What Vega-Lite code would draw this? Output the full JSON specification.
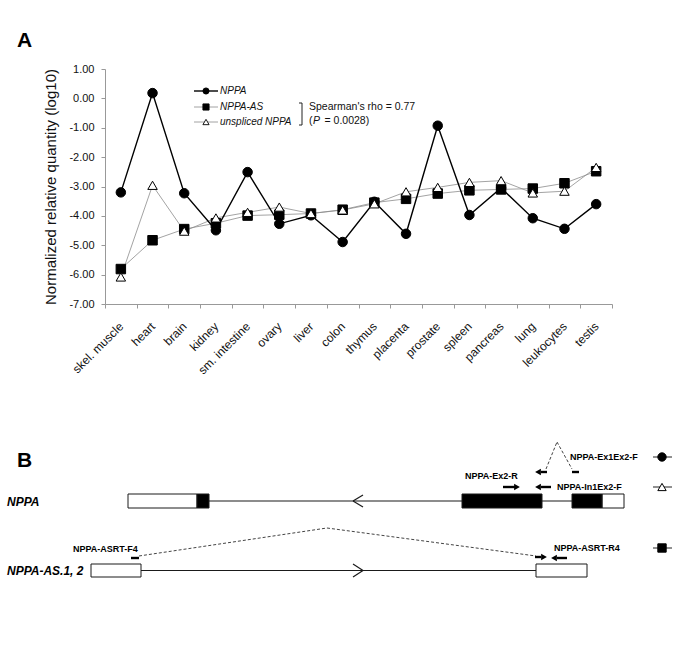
{
 "$schema": "https://vega.github.io/schema/vega-lite/v6.json",
 "width": 507,
 "height": 235,
 "autosize": {"type": "none"},
 "padding": {"left": 105, "top": 69, "right": 73, "bottom": 364},
 "background": "white",
 "config": {"view": {"stroke": null}, "font": "Liberation Sans"},
 "datasets": {
  "expr": [
   {"tissue": "skel. muscle", "series": "NPPA", "value": -3.2},
   {"tissue": "heart", "series": "NPPA", "value": 0.18},
   {"tissue": "brain", "series": "NPPA", "value": -3.23},
   {"tissue": "kidney", "series": "NPPA", "value": -4.49},
   {"tissue": "sm. intestine", "series": "NPPA", "value": -2.51},
   {"tissue": "ovary", "series": "NPPA", "value": -4.27},
   {"tissue": "liver", "series": "NPPA", "value": -3.98},
   {"tissue": "colon", "series": "NPPA", "value": -4.89},
   {"tissue": "thymus", "series": "NPPA", "value": -3.52},
   {"tissue": "placenta", "series": "NPPA", "value": -4.61},
   {"tissue": "prostate", "series": "NPPA", "value": -0.93},
   {"tissue": "spleen", "series": "NPPA", "value": -3.97},
   {"tissue": "pancreas", "series": "NPPA", "value": -3.05},
   {"tissue": "lung", "series": "NPPA", "value": -4.08},
   {"tissue": "leukocytes", "series": "NPPA", "value": -4.44},
   {"tissue": "testis", "series": "NPPA", "value": -3.6},
   {"tissue": "skel. muscle", "series": "NPPA-AS", "value": -5.81},
   {"tissue": "heart", "series": "NPPA-AS", "value": -4.83},
   {"tissue": "brain", "series": "NPPA-AS", "value": -4.45},
   {"tissue": "kidney", "series": "NPPA-AS", "value": -4.25},
   {"tissue": "sm. intestine", "series": "NPPA-AS", "value": -3.99},
   {"tissue": "ovary", "series": "NPPA-AS", "value": -3.96},
   {"tissue": "liver", "series": "NPPA-AS", "value": -3.92},
   {"tissue": "colon", "series": "NPPA-AS", "value": -3.79},
   {"tissue": "thymus", "series": "NPPA-AS", "value": -3.55},
   {"tissue": "placenta", "series": "NPPA-AS", "value": -3.42},
   {"tissue": "prostate", "series": "NPPA-AS", "value": -3.24},
   {"tissue": "spleen", "series": "NPPA-AS", "value": -3.13},
   {"tissue": "pancreas", "series": "NPPA-AS", "value": -3.1},
   {"tissue": "lung", "series": "NPPA-AS", "value": -3.07},
   {"tissue": "leukocytes", "series": "NPPA-AS", "value": -2.89},
   {"tissue": "testis", "series": "NPPA-AS", "value": -2.48},
   {"tissue": "skel. muscle", "series": "unspliced NPPA", "value": -6.08},
   {"tissue": "heart", "series": "unspliced NPPA", "value": -2.96},
   {"tissue": "brain", "series": "unspliced NPPA", "value": -4.52},
   {"tissue": "kidney", "series": "unspliced NPPA", "value": -4.07},
   {"tissue": "sm. intestine", "series": "unspliced NPPA", "value": -3.88},
   {"tissue": "ovary", "series": "unspliced NPPA", "value": -3.7},
   {"tissue": "liver", "series": "unspliced NPPA", "value": -3.92},
   {"tissue": "colon", "series": "unspliced NPPA", "value": -3.8},
   {"tissue": "thymus", "series": "unspliced NPPA", "value": -3.59},
   {"tissue": "placenta", "series": "unspliced NPPA", "value": -3.18},
   {"tissue": "prostate", "series": "unspliced NPPA", "value": -3.03},
   {"tissue": "spleen", "series": "unspliced NPPA", "value": -2.86},
   {"tissue": "pancreas", "series": "unspliced NPPA", "value": -2.8},
   {"tissue": "lung", "series": "unspliced NPPA", "value": -3.22},
   {"tissue": "leukocytes", "series": "unspliced NPPA", "value": -3.16},
   {"tissue": "testis", "series": "unspliced NPPA", "value": -2.35}
  ],
  "boxes": [
   {"x": 128, "y": 494, "x2": 197, "y2": 508, "kind": "UTR"},
   {"x": 197, "y": 494, "x2": 209, "y2": 508, "kind": "CDS"},
   {"x": 462, "y": 494, "x2": 542, "y2": 508, "kind": "CDS"},
   {"x": 572, "y": 494, "x2": 602, "y2": 508, "kind": "CDS"},
   {"x": 602, "y": 494, "x2": 624, "y2": 508, "kind": "UTR"},
   {"x": 91, "y": 564, "x2": 141, "y2": 577, "kind": "UTR"},
   {"x": 536, "y": 564, "x2": 587, "y2": 577, "kind": "UTR"}
  ],
  "segs": [
   {"x": 128, "y": 501, "x2": 624, "y2": 501, "kind": "gene"},
   {"x": 363, "y": 495, "x2": 353, "y2": 501, "kind": "gene"},
   {"x": 353, "y": 501, "x2": 363, "y2": 507, "kind": "gene"},
   {"x": 91, "y": 570.5, "x2": 587, "y2": 570.5, "kind": "gene"},
   {"x": 353, "y": 564, "x2": 363, "y2": 570.5, "kind": "gene"},
   {"x": 363, "y": 570.5, "x2": 353, "y2": 577, "kind": "gene"},
   {"x": 139, "y": 556, "x2": 327, "y2": 528, "kind": "splice"},
   {"x": 327, "y": 528, "x2": 536, "y2": 556, "kind": "splice"},
   {"x": 546, "y": 469, "x2": 557, "y2": 442, "kind": "splice"},
   {"x": 557, "y": 442, "x2": 572, "y2": 469, "kind": "splice"},
   {"x": 503, "y": 487, "x2": 515, "y2": 487, "kind": "primer"},
   {"x": 541, "y": 487, "x2": 551, "y2": 487, "kind": "primer"},
   {"x": 541, "y": 472, "x2": 547, "y2": 472, "kind": "primer"},
   {"x": 572, "y": 472, "x2": 579, "y2": 472, "kind": "primer"},
   {"x": 131, "y": 558, "x2": 139, "y2": 558, "kind": "primer"},
   {"x": 535, "y": 557, "x2": 541, "y2": 557, "kind": "primer"},
   {"x": 557, "y": 558, "x2": 567, "y2": 558, "kind": "primer"},
   {"x": 299, "y": 103, "x2": 302, "y2": 103, "kind": "bracket"},
   {"x": 302, "y": 103, "x2": 302, "y2": 125, "kind": "bracket"},
   {"x": 299, "y": 125, "x2": 302, "y2": 125, "kind": "bracket"},
   {"x": 653, "y": 457, "x2": 672, "y2": 457, "kind": "key"},
   {"x": 653, "y": 487, "x2": 672, "y2": 487, "kind": "key"},
   {"x": 653, "y": 548, "x2": 672, "y2": 548, "kind": "key"},
   {"x": 194, "y": 91, "x2": 218, "y2": 91, "kind": "legend", "series": "NPPA"},
   {"x": 194, "y": 107, "x2": 218, "y2": 107, "kind": "legend", "series": "NPPA-AS"},
   {"x": 194, "y": 122, "x2": 218, "y2": 122, "kind": "legend", "series": "unspliced NPPA"}
  ],
  "heads": [
   {"x": 517, "y": 487, "dir": "right"},
   {"x": 538, "y": 487, "dir": "left"},
   {"x": 538, "y": 472, "dir": "left"},
   {"x": 544, "y": 557, "dir": "right"},
   {"x": 554, "y": 558, "dir": "left"}
  ],
  "markers": [
   {"x": 206, "y": 91, "series": "NPPA", "group": "legend"},
   {"x": 206, "y": 107, "series": "NPPA-AS", "group": "legend"},
   {"x": 206, "y": 122, "series": "unspliced NPPA", "group": "legend"},
   {"x": 662, "y": 457, "series": "NPPA", "group": "key"},
   {"x": 662, "y": 487, "series": "unspliced NPPA", "group": "key"},
   {"x": 662, "y": 548, "series": "NPPA-AS", "group": "key"}
  ],
  "labels": [
   {"x": 17, "y": 46.7, "text": "A", "kind": "panel"},
   {"x": 17, "y": 466.7, "text": "B", "kind": "panel"},
   {"x": 7, "y": 502, "text": "NPPA", "kind": "gene"},
   {"x": 7, "y": 571, "text": "NPPA-AS.1, 2", "kind": "gene"},
   {"x": 73, "y": 549, "text": "NPPA-ASRT-F4", "kind": "primer"},
   {"x": 465, "y": 476, "text": "NPPA-Ex2-R", "kind": "primer"},
   {"x": 557, "y": 487, "text": "NPPA-In1Ex2-F", "kind": "primer"},
   {"x": 570, "y": 457, "text": "NPPA-Ex1Ex2-F", "kind": "primer"},
   {"x": 554, "y": 548, "text": "NPPA-ASRT-R4", "kind": "primer"},
   {"x": 220, "y": 91, "text": "NPPA", "kind": "legend"},
   {"x": 220, "y": 107, "text": "NPPA-AS", "kind": "legend"},
   {"x": 220, "y": 122, "text": "unspliced NPPA", "kind": "legend"},
   {"x": 309, "y": 107, "text": "Spearman's rho = 0.77", "kind": "stat"},
   {"x": 309, "y": 121, "text": "(", "kind": "stat"},
   {"x": 313, "y": 121, "text": "P", "kind": "statItalic"},
   {"x": 324.5, "y": 121, "text": "= 0.0028)", "kind": "stat"}
  ]
 },
 "layer": [
  {
   "data": {"name": "expr"},
   "encoding": {
    "x": {
     "field": "tissue", "type": "nominal", "sort": null,
     "scale": {"type": "band", "paddingInner": 0, "paddingOuter": 0},
     "axis": {
      "title": null, "labelAngle": -45, "labelAlign": "right", "labelBaseline": "middle",
      "labelFontSize": 12, "labelPadding": 16, "labelColor": "#111", "labelOverlap": false,
      "tickBand": "extent", "tickSize": 4, "tickColor": "#999", "domainColor": "#999", "grid": false
     }
    },
    "y": {
     "field": "value", "type": "quantitative",
     "scale": {"domain": [-7, 1], "nice": false, "zero": false},
     "axis": {
      "values": [-7, -6, -5, -4, -3, -2, -1, 0, 1],
      "labelExpr": "(datum.value < 0 ? '-' : '') + format(abs(datum.value), '.2f')",
      "labelFontSize": 11, "labelColor": "#111", "labelPadding": 7,
      "tickSize": 4, "tickColor": "#999", "domainColor": "#999", "grid": false,
      "title": "Normalized relative quantity (log10)", "titleFontSize": 15,
      "titleFontWeight": "normal", "titleColor": "#111", "titlePadding": 10
     }
    }
   },
   "layer": [
    {
     "transform": [{"filter": "datum.series !== 'NPPA'"}],
     "mark": {"type": "line", "stroke": "#8c8c8c", "strokeWidth": 0.8},
     "encoding": {"detail": {"field": "series", "type": "nominal"}}
    },
    {
     "transform": [{"filter": "datum.series === 'NPPA'"}],
     "mark": {"type": "line", "stroke": "black", "strokeWidth": 1.4}
    },
    {
     "mark": {"type": "point", "size": 90, "stroke": "black", "strokeWidth": 1, "opacity": 1, "filled": true},
     "encoding": {
      "shape": {"field": "series", "type": "nominal", "scale": {"domain": ["NPPA", "NPPA-AS", "unspliced NPPA"], "range": ["circle", "square", "triangle-up"]}, "legend": null},
      "fill": {"field": "series", "type": "nominal", "scale": {"domain": ["NPPA", "NPPA-AS", "unspliced NPPA"], "range": ["black", "black", "white"]}, "legend": null}
     }
    }
   ]
  },
  {
   "encoding": {
    "x": {"field": "x", "type": "quantitative", "scale": {"domain": [0, 685], "range": [-105, 580], "nice": false, "zero": false}, "axis": null},
    "y": {"field": "y", "type": "quantitative", "scale": {"domain": [0, 668], "range": [-69, 599], "nice": false, "zero": false}, "axis": null}
   },
   "layer": [
    {
     "data": {"name": "segs"},
     "transform": [{"filter": "datum.kind === 'gene'"}],
     "mark": {"type": "rule", "stroke": "#1a1a1a", "strokeWidth": 1.2},
     "encoding": {"x2": {"field": "x2"}, "y2": {"field": "y2"}}
    },
    {
     "data": {"name": "boxes"},
     "transform": [{"filter": "datum.kind === 'UTR'"}],
     "mark": {"type": "rect", "fill": "white", "stroke": "#1a1a1a", "strokeWidth": 1},
     "encoding": {"x2": {"field": "x2"}, "y2": {"field": "y2"}}
    },
    {
     "data": {"name": "boxes"},
     "transform": [{"filter": "datum.kind === 'CDS'"}],
     "mark": {"type": "rect", "fill": "black", "stroke": "#1a1a1a", "strokeWidth": 1},
     "encoding": {"x2": {"field": "x2"}, "y2": {"field": "y2"}}
    },
    {
     "data": {"name": "segs"},
     "transform": [{"filter": "datum.kind === 'splice'"}],
     "mark": {"type": "rule", "stroke": "#444", "strokeWidth": 1, "strokeDash": [3, 2]},
     "encoding": {"x2": {"field": "x2"}, "y2": {"field": "y2"}}
    },
    {
     "data": {"name": "segs"},
     "transform": [{"filter": "datum.kind === 'primer'"}],
     "mark": {"type": "rule", "stroke": "black", "strokeWidth": 2.4},
     "encoding": {"x2": {"field": "x2"}, "y2": {"field": "y2"}}
    },
    {
     "data": {"name": "heads"},
     "transform": [{"filter": "datum.dir === 'right'"}],
     "mark": {"type": "point", "shape": "triangle-right", "size": 45, "filled": true, "fill": "black", "opacity": 1, "strokeWidth": 0}
    },
    {
     "data": {"name": "heads"},
     "transform": [{"filter": "datum.dir === 'left'"}],
     "mark": {"type": "point", "shape": "triangle-left", "size": 45, "filled": true, "fill": "black", "opacity": 1, "strokeWidth": 0}
    },
    {
     "data": {"name": "segs"},
     "transform": [{"filter": "datum.kind === 'bracket' || datum.kind === 'key'"}],
     "mark": {"type": "rule", "stroke": "#222", "strokeWidth": 1},
     "encoding": {"x2": {"field": "x2"}, "y2": {"field": "y2"}}
    },
    {
     "data": {"name": "segs"},
     "transform": [{"filter": "datum.kind === 'legend' && datum.series === 'NPPA'"}],
     "mark": {"type": "rule", "stroke": "black", "strokeWidth": 1.4},
     "encoding": {"x2": {"field": "x2"}, "y2": {"field": "y2"}}
    },
    {
     "data": {"name": "segs"},
     "transform": [{"filter": "datum.kind === 'legend' && datum.series !== 'NPPA'"}],
     "mark": {"type": "rule", "stroke": "#8c8c8c", "strokeWidth": 0.8},
     "encoding": {"x2": {"field": "x2"}, "y2": {"field": "y2"}}
    },
    {
     "data": {"name": "markers"},
     "transform": [{"filter": "datum.group === 'legend'"}],
     "mark": {"type": "point", "size": 38, "stroke": "black", "strokeWidth": 0.9, "opacity": 1, "filled": true},
     "encoding": {
      "shape": {"field": "series", "type": "nominal", "legend": null},
      "fill": {"field": "series", "type": "nominal", "legend": null}
     }
    },
    {
     "data": {"name": "markers"},
     "transform": [{"filter": "datum.group === 'key'"}],
     "mark": {"type": "point", "size": 70, "stroke": "black", "strokeWidth": 1, "opacity": 1, "filled": true},
     "encoding": {
      "shape": {"field": "series", "type": "nominal", "legend": null},
      "fill": {"field": "series", "type": "nominal", "legend": null}
     }
    },
    {
     "data": {"name": "labels"},
     "transform": [{"filter": "datum.kind === 'panel'"}],
     "mark": {"type": "text", "align": "left", "baseline": "alphabetic", "fontSize": 21, "fontWeight": "bold", "fill": "black"},
     "encoding": {"text": {"field": "text"}}
    },
    {
     "data": {"name": "labels"},
     "transform": [{"filter": "datum.kind === 'gene'"}],
     "mark": {"type": "text", "align": "left", "baseline": "middle", "fontSize": 12, "fontWeight": "bold", "fontStyle": "italic", "fill": "black"},
     "encoding": {"text": {"field": "text"}}
    },
    {
     "data": {"name": "labels"},
     "transform": [{"filter": "datum.kind === 'primer'"}],
     "mark": {"type": "text", "align": "left", "baseline": "middle", "fontSize": 9, "fontWeight": "bold", "font": "Liberation Sans Narrow, Liberation Sans", "fill": "black"},
     "encoding": {"text": {"field": "text"}}
    },
    {
     "data": {"name": "labels"},
     "transform": [{"filter": "datum.kind === 'legend'"}],
     "mark": {"type": "text", "align": "left", "baseline": "middle", "fontSize": 10, "fontStyle": "italic", "fill": "#111"},
     "encoding": {"text": {"field": "text"}}
    },
    {
     "data": {"name": "labels"},
     "transform": [{"filter": "datum.kind === 'stat'"}],
     "mark": {"type": "text", "align": "left", "baseline": "middle", "fontSize": 10.5, "fill": "#111"},
     "encoding": {"text": {"field": "text"}}
    },
    {
     "data": {"name": "labels"},
     "transform": [{"filter": "datum.kind === 'statItalic'"}],
     "mark": {"type": "text", "align": "left", "baseline": "middle", "fontSize": 10.5, "fontStyle": "italic", "fill": "#111"},
     "encoding": {"text": {"field": "text"}}
    }
   ]
  }
 ],
 "resolve": {"scale": {"x": "independent", "y": "independent"}}
}
